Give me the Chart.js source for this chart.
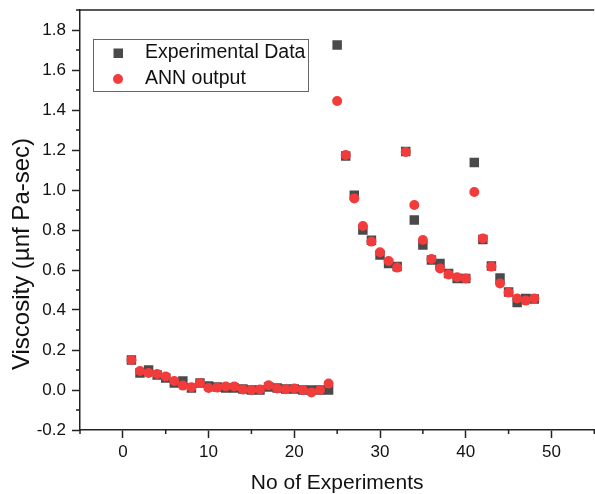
<!DOCTYPE html>
<html>
<head>
<meta charset="utf-8">
<script src="https://cdn.jsdelivr.net/npm/chart.js@4"></script>
<style>
  html, body { margin: 0; padding: 0; overflow: hidden; background: #fff; }
</style>
</head>
<body>
<canvas id="viscChart" width="601" height="494"></canvas>
<script>
// experiment numbers 1..48
const experiments = [1,2,3,4,5,6,7,8,9,10,11,12,13,14,15,16,17,18,19,20,21,22,23,24,
  25,26,27,28,29,30,31,32,33,34,35,36,37,38,39,40,41,42,43,44,45,46,47,48];

const experimentalData = [0.15,0.085,0.10,0.075,0.06,0.035,0.045,0.01,0.035,0.02,0.015,0.01,
  0.01,0.005,0.0,0.0,0.015,0.01,0.005,0.005,0.0,0.0,0.0,0.0,
  1.725,1.17,0.974,0.80,0.749,0.675,0.632,0.617,1.193,0.85,0.725,0.65,0.632,0.582,0.558,0.558,
  1.137,0.753,0.62,0.56,0.49,0.437,0.457,0.455];

const annOutput = [0.15,0.095,0.085,0.08,0.068,0.045,0.022,0.014,0.035,0.01,0.012,0.018,
  0.018,0.003,0.0,0.003,0.024,0.008,0.004,0.008,0.0,-0.012,0.0,0.032,
  1.445,1.175,0.958,0.82,0.742,0.689,0.645,0.612,1.19,0.925,0.75,0.655,0.608,0.578,0.564,0.558,
  0.99,0.758,0.617,0.533,0.487,0.458,0.447,0.458];

const xTicks = [0, 10, 20, 30, 40, 50];
const yTicks = [-0.2, 0.0, 0.2, 0.4, 0.6, 0.8, 1.0, 1.2, 1.4, 1.6, 1.8];

const squareColor = "#4a4a4a";
const circleColor = "#f23c3c";
const fontFamily = "'Liberation Sans', Arial, sans-serif";

function toPoints(values) {
    return experiments.map((x, i) => ({ x: x, y: values[i] }));
}

// minor ticks, top frame line, axis titles and the legend box
const originLook = {
    id: "originLook",
    afterDraw(chart) {
        const ctx = chart.ctx;
        const area = chart.chartArea;
        const xs = chart.scales.x;
        const ys = chart.scales.y;
        ctx.save();
        ctx.strokeStyle = "#222";
        ctx.lineWidth = 1.5;
        ctx.beginPath();
        ctx.moveTo(area.left, area.top);
        ctx.lineTo(area.right, area.top);
        // minor ticks
        for (let v = xs.min; v <= xs.max; v += 10) {
            const px = xs.getPixelForValue(v);
            ctx.moveTo(px, area.bottom);
            ctx.lineTo(px, area.bottom + 4);
        }
        for (let v = -0.1; v <= ys.max; v += 0.2) {
            const py = ys.getPixelForValue(v);
            ctx.moveTo(area.left, py);
            ctx.lineTo(area.left - 4, py);
        }
        ctx.stroke();

        // axis titles
        ctx.fillStyle = "#111";
        ctx.textAlign = "center";
        ctx.textBaseline = "middle";
        ctx.font = "21px " + fontFamily;
        ctx.fillText("No of Experiments", (area.left + area.right) / 2, 483);
        ctx.translate(22, 254);
        ctx.rotate(-Math.PI / 2);
        ctx.font = "24px " + fontFamily;
        ctx.fillText("Viscosity (\u00b5nf Pa-sec)", 0, 0);
        ctx.restore();

        // legend
        ctx.save();
        ctx.strokeStyle = "#666";
        ctx.lineWidth = 1;
        ctx.strokeRect(93.5, 39.5, 215, 52);
        ctx.fillStyle = squareColor;
        ctx.fillRect(113.5, 48.5, 9.5, 9.5);
        ctx.fillStyle = circleColor;
        ctx.beginPath();
        ctx.arc(118, 79, 5, 0, Math.PI * 2);
        ctx.fill();
        ctx.fillStyle = "#111";
        ctx.font = "19.5px " + fontFamily;
        ctx.textBaseline = "middle";
        ctx.fillText("Experimental Data", 145, 53);
        ctx.fillText("ANN output", 145, 79);
        ctx.restore();
    }
};

new Chart(document.getElementById("viscChart"), {
    type: "scatter",
    data: {
        datasets: [
            {
                label: "ANN output",
                data: toPoints(annOutput),
                pointStyle: "circle",
                pointRadius: 5,
                pointHoverRadius: 5,
                backgroundColor: circleColor,
                borderWidth: 0,
            },
            {
                label: "Experimental Data",
                data: toPoints(experimentalData),
                pointStyle: "rect",
                pointRadius: 6.7,
                pointHoverRadius: 6.7,
                backgroundColor: squareColor,
                borderWidth: 0,
            },
        ],
    },
    options: {
        responsive: false,
        animation: false,
        layout: { padding: { top: 10, right: 1, left: 0, bottom: 0 } },
        plugins: {
            legend: { display: false },
            tooltip: { enabled: false },
        },
        scales: {
            x: {
                type: "linear",
                min: -5,
                max: 55,
                afterBuildTicks: (scale) => { scale.ticks = xTicks.map((v) => ({ value: v })); },
                afterFit: (scale) => {
                    scale.height = 64;
                    scale.paddingLeft = 0;
                    scale.paddingRight = 0;
                },
                grid: { display: true, drawOnChartArea: false, drawTicks: true, tickLength: 8, tickWidth: 1.5, tickColor: "#222" },
                border: { display: true, color: "#222", width: 1.5 },
                ticks: { padding: 4, color: "#111", font: { family: fontFamily, size: 17 } },
            },
            y: {
                type: "linear",
                min: -0.2,
                max: 1.9,
                afterBuildTicks: (scale) => { scale.ticks = yTicks.map((v) => ({ value: v })); },
                afterFit: (scale) => {
                    scale.width = 80;
                    scale.paddingTop = 0;
                    scale.paddingBottom = 0;
                },
                grid: { display: true, drawOnChartArea: false, drawTicks: true, tickLength: 8, tickWidth: 1.5, tickColor: "#222" },
                border: { display: true, color: "#222", width: 1.5 },
                ticks: {
                    padding: 6,
                    color: "#111",
                    font: { family: fontFamily, size: 17 },
                    callback: (v) => v.toFixed(1),
                },
            },
        },
    },
    plugins: [originLook],
});
</script>
</body>
</html>
